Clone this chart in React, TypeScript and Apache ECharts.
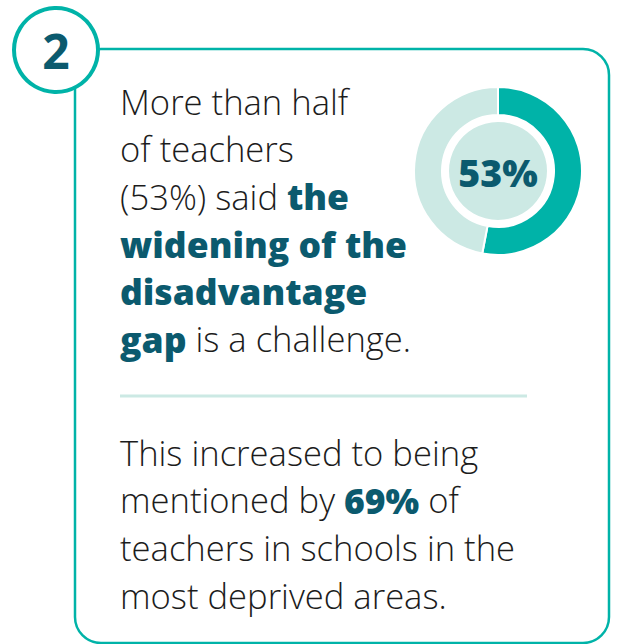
import React, { useEffect, useRef } from "react";
import * as echarts from "echarts";

const shareLabels = ["Challenge", "Other"];
const shareValues = [53, 47];
const centerLabel = "53%";
const badgeNumber = "2";
const para1Lines: [string, string][][] = [
  [["n", "More than half"]],
  [["n", "of teachers"]],
  [["n", "(53%) said "], ["b", "the"]],
  [["b", "widening of the"]],
  [["b", "disadvantage"]],
  [["b", "gap"], ["n", " is a challenge."]],
];
const para2Lines: [string, string][][] = [
  [["n", "This increased to being"]],
  [["n", "mentioned by "], ["b", "69%"], ["n", " of"]],
  [["n", "teachers in schools in the"]],
  [["n", "most deprived areas."]],
];

const TEAL = "#00b3a8";
const LIGHT = "#cce9e4";
const NAVY = "#0b5a6e";
const INK = "#1c1c1c";
const FONT = "'Open Sans', 'Noto Sans', sans-serif";

function richLine(parts: [string, string][]) {
  return parts.map(([k, t]) => `{${k}|${t}}`).join("");
}

export default function App() {
  const ref = useRef<HTMLDivElement>(null);
  useEffect(() => {
    if (!ref.current) return;
    const chart = echarts.init(ref.current, undefined, { renderer: "svg" });
    const rich = {
      n: { fontFamily: FONT, fontSize: 34.6, fontWeight: 300, fill: INK },
      b: { fontFamily: FONT, fontSize: 35.5, fontWeight: 800, fill: NAVY },
    };
    const textEls: any[] = [];
    const addLines = (lines: [string, string][][], baseY: number, pitch: number) => {
      lines.forEach((parts, i) => {
        textEls.push({
          type: "text",
          x: 120,
          y: baseY + i * pitch,
          z: 10,
          style: {
            text: richLine(parts),
            rich,
            verticalAlign: "middle",
            align: "left",
          },
        });
      });
    };
    addLines(para1Lines, 101, 47.5);
    addLines(para2Lines, 452, 47.7);

    chart.setOption({
      animation: false,
      backgroundColor: "#ffffff",
      graphic: [
        {
          type: "rect",
          shape: { x: 75, y: 49, width: 534, height: 594, r: 26 },
          style: { fill: "none", stroke: TEAL, lineWidth: 2.5 },
          z: 1,
        },
        {
          type: "circle",
          shape: { cx: 56, cy: 50, r: 42 },
          style: { fill: "#ffffff", stroke: TEAL, lineWidth: 4 },
          z: 2,
        },
        {
          type: "text",
          x: 56,
          y: 50,
          z: 3,
          style: {
            text: badgeNumber,
            fontFamily: FONT,
            fontSize: 48,
            fontWeight: 700,
            fill: NAVY,
            align: "center",
            verticalAlign: "middle",
          },
        },
        {
          type: "line",
          shape: { x1: 120, y1: 396, x2: 527, y2: 396 },
          style: { stroke: LIGHT, lineWidth: 3 },
          z: 2,
        },
        {
          type: "circle",
          shape: { cx: 498, cy: 171, r: 49 },
          style: { fill: LIGHT },
          z: 5,
        },
        {
          type: "text",
          x: 498,
          y: 172,
          z: 6,
          style: {
            text: centerLabel,
            fontFamily: FONT,
            fontSize: 37.5,
            fontWeight: 800,
            fill: NAVY,
            align: "center",
            verticalAlign: "middle",
          },
        },
        ...textEls,
      ],
      series: [
        {
          type: "pie",
          center: [498, 171],
          radius: [56, 84],
          startAngle: 90,
          clockwise: true,
          silent: true,
          label: { show: false },
          labelLine: { show: false },
          itemStyle: { borderColor: "#ffffff", borderWidth: 2 },
          data: shareLabels.map((name, i) => ({
            name,
            value: shareValues[i],
            itemStyle: { color: i === 0 ? TEAL : LIGHT },
          })),
        },
      ],
    });
    return () => chart.dispose();
  }, []);
  return <div ref={ref} style={{ width: 617, height: 644, position: "fixed", left: 0, top: 0 }} />;
}
